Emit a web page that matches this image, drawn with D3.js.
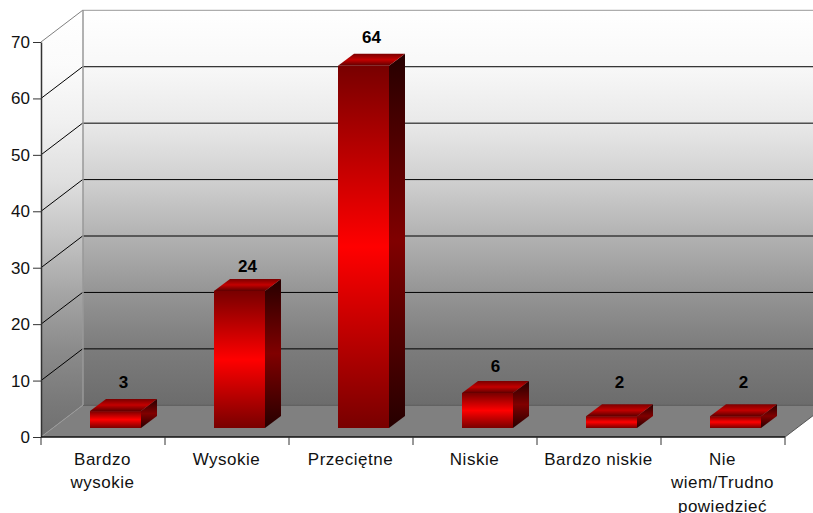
<!DOCTYPE html>
<html>
<head>
<meta charset="utf-8">
<script src="https://cdn.jsdelivr.net/npm/d3@7"></script>
<style>
  html, body { margin: 0; padding: 0; background: #fff; }
  text { font-family: "Liberation Sans", Arial, sans-serif; }
</style>
</head>
<body>
<div id="chart"></div>
<script>
// Values, labels show them rounded
const categories = [['Bardzo', 'wysokie'], ['Wysokie'], ['Przeciętne'], ['Niskie'], ['Bardzo niskie'], ['Nie', 'wiem/Trudno', 'powiedzieć']];
const values = [3.0, 24.3, 64.2, 6.2, 2.1, 2.1];
const yTicks = [0, 10, 20, 30, 40, 50, 60, 70];

const width = 813, height = 513;

// 3D box of the plot
const plotLeft = 41, plotRight = 785, plotBottom = 437, plotTop = 42;
const depthX = 42, depthY = -32;
const barInsetX = 12.5, barInsetY = -9;
const barDepthX = 16, barDepthY = -12;
const barWidth = 51;
// labels don't sit at one fixed distance above the bars in the original
const labelGap = [-11, -7, -11, -9, -16, -16];

const svg = d3.select('#chart').append('svg')
    .attr('width', width)
    .attr('height', height)
    .style('display', 'block');

const y = d3.scaleLinear().domain([0, 70]).range([plotBottom, plotTop]);
const x = d3.scaleBand().domain(d3.range(categories.length)).range([plotLeft, plotRight]);
const pts = a => a.map(p => p.join(',')).join(' ');

const defs = svg.append('defs');

function vGrad(id, stops) {
    const g = defs.append('linearGradient').attr('id', id)
        .attr('x1', 0).attr('y1', 0).attr('x2', 0).attr('y2', 1);
    stops.forEach(s => g.append('stop').attr('offset', s[0]).attr('stop-color', s[1]));
}

// the wall shading is not linear, stays near white in the top bands
vGrad('wall', [[0, '#ffffff'], [0.142, '#f8f8f8'], [0.286, '#e9e9e9'], [0.43, '#d0d0d0'], [0.572, '#b2b2b2'], [0.714, '#959595'], [0.856, '#7c7c7c'], [1, '#6c6c6c']]);
vGrad('side', [[0, '#ffffff'], [0.13, '#fbfbfb'], [0.265, '#f0f0f0'], [0.4, '#dfdfdf'], [0.53, '#c4c4c4'], [0.66, '#a6a6a6'], [0.79, '#8c8c8c'], [0.925, '#787878'], [1, '#707070']]);
vGrad('front', [[0, '#780000'], [0.5, '#ff0000'], [1, '#780000']]);
vGrad('rightf', [[0, '#260000'], [0.5, '#800000'], [1, '#260000']]);
vGrad('topf', [[0, '#7a0000'], [0.5, '#c40000'], [1, '#5e0000']]);

// walls and floor
svg.append('polygon')
    .attr('points', pts([[plotLeft + depthX, y(70) + depthY], [width, y(70) + depthY], [width, y(0) + depthY], [plotLeft + depthX, y(0) + depthY]]))
    .attr('fill', 'url(#wall)');

svg.append('polygon')
    .attr('points', pts([[plotLeft, y(70)], [plotLeft + depthX, y(70) + depthY], [plotLeft + depthX, y(0) + depthY], [plotLeft, y(0)]]))
    .attr('fill', 'url(#side)');

svg.append('polygon')
    .attr('points', pts([[plotLeft, y(0)], [plotLeft + depthX, y(0) + depthY], [width, y(0) + depthY], [width, y(0) - 21.3], [plotRight, y(0)]]))
    .attr('fill', '#808080');

// grid
const grid = svg.append('g').attr('fill', 'none');
grid.selectAll('.side-line')
    .data(yTicks)
    .join('line')
    .attr('x1', plotLeft).attr('y1', d => y(d))
    .attr('x2', plotLeft + depthX).attr('y2', d => y(d) + depthY)
    .attr('stroke', d => d === 70 ? '#808080' : d === 0 ? '#9a9a9a' : '#000')
    .attr('stroke-width', 1);
grid.selectAll('.back-line')
    .data(yTicks)
    .join('line')
    .attr('x1', plotLeft + depthX).attr('y1', d => y(d) + depthY + 0.3)
    .attr('x2', width).attr('y2', d => y(d) + depthY + 0.3)
    .attr('stroke', d => d === 70 ? '#999' : d === 0 ? '#5a5a5a' : '#000')
    .attr('stroke-width', 1);
grid.append('line')
    .attr('x1', plotLeft + depthX).attr('y1', y(70) + depthY)
    .attr('x2', plotLeft + depthX).attr('y2', y(0) + depthY)
    .attr('stroke', '#999').attr('stroke-width', 1.5);
grid.append('line')
    .attr('x1', plotRight).attr('y1', y(0))
    .attr('x2', width).attr('y2', y(0) - 21.3)
    .attr('stroke', '#555');

// bars
const barG = svg.append('g');
values.forEach((v, i) => {
    const x0 = x(i) + (x.bandwidth() - barWidth) / 2 + barInsetX;
    const x1 = x0 + barWidth;
    const base = y(0) + barInsetY;
    const t = y(v) + barInsetY;
    barG.append('polygon')
        .attr('points', pts([[x1, t], [x1 + barDepthX, t + barDepthY], [x1 + barDepthX, base + barDepthY], [x1, base]]))
        .attr('fill', 'url(#rightf)');
    barG.append('polygon')
        .attr('points', pts([[x0, t], [x0 + barDepthX, t + barDepthY], [x1 + barDepthX, t + barDepthY], [x1, t]]))
        .attr('fill', 'url(#topf)');
    barG.append('rect')
        .attr('x', x0).attr('y', t)
        .attr('width', barWidth).attr('height', base - t)
        .attr('fill', 'url(#front)');
    barG.append('text')
        .attr('x', x0 + barWidth / 2 + barDepthX / 2)
        .attr('y', t + barDepthY + labelGap[i])
        .attr('text-anchor', 'middle')
        .attr('font-size', 17)
        .attr('font-weight', 'bold')
        .attr('fill', '#000')
        .text(d3.format('.0f')(v));
});

// y axis
const yAxis = svg.append('g')
    .attr('transform', `translate(${plotLeft},0)`)
    .call(d3.axisLeft(y).tickValues(yTicks).tickSize(8).tickPadding(3).tickSizeOuter(0));
yAxis.attr('font-family', null);
yAxis.select('.domain').attr('stroke', '#333').attr('stroke-width', 1.5);
yAxis.selectAll('.tick line').attr('stroke', '#333').attr('stroke-width', 1);
yAxis.selectAll('.tick text').attr('font-size', 17).attr('fill', '#111');

// x axis, ticks sit on the band edges
const xEdges = d3.range(categories.length + 1).map(i => plotLeft + i * x.step());
const xAxis = svg.append('g');
xAxis.append('line')
    .attr('x1', plotLeft).attr('x2', plotRight)
    .attr('y1', plotBottom).attr('y2', plotBottom)
    .attr('stroke', '#111').attr('stroke-width', 1.5);
xAxis.selectAll('.xtick')
    .data(xEdges)
    .join('line')
    .attr('x1', d => d).attr('x2', d => d)
    .attr('y1', plotBottom).attr('y2', plotBottom + 8)
    .attr('stroke', '#333');

categories.forEach((lines, i) => {
    const t = xAxis.append('text')
        .attr('text-anchor', 'middle')
        .attr('font-size', 17)
        .attr('letter-spacing', 0.5)
        .attr('fill', '#111');
    lines.forEach((l, k) => {
        t.append('tspan')
            .attr('x', x(i) + x.bandwidth() / 2 - 0.5)
            .attr('y', 464.5 + k * 23.5)
            .text(l);
    });
});
</script>
</body>
</html>
